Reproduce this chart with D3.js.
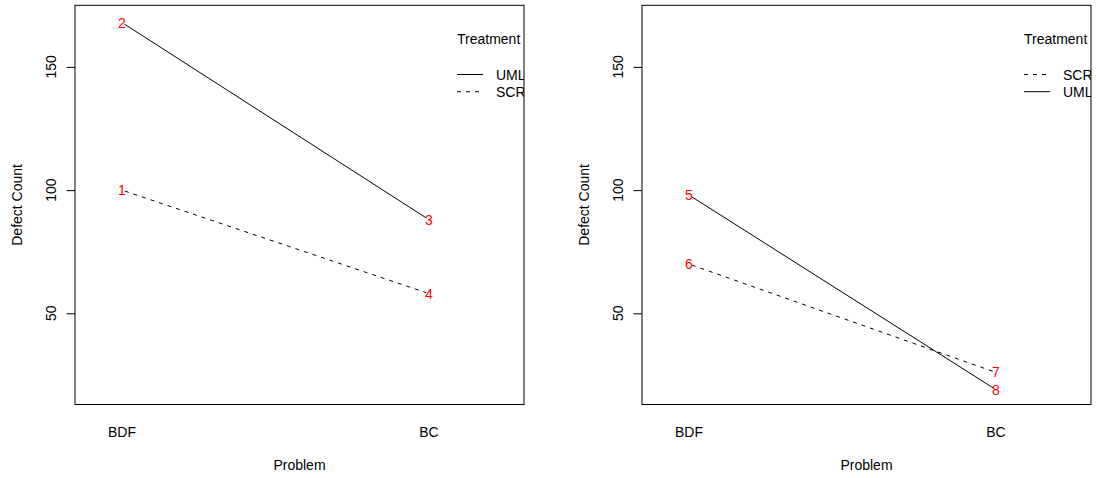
<!DOCTYPE html>
<html>
<head>
<meta charset="utf-8">
<script src="https://cdn.jsdelivr.net/npm/d3@7"></script>
<style>
  html, body { margin: 0; padding: 0; background: #fff; }
  svg text { font-family: "Liberation Sans", Arial, Helvetica, sans-serif; font-size: 14px; fill: #000; }
</style>
</head>
<body>
<svg id="chart" width="1096" height="478"></svg>
<script>
// Problem levels along the x axis
const problems = ["BDF", "BC"];

// Left panel: defect counts per treatment, with the observation ids plotted as labels
const leftUML = [168, 88];
const leftSCR = [100, 58];
const leftUMLIds = ["2", "3"];
const leftSCRIds = ["1", "4"];

// Right panel
const rightUML = [98, 19];
const rightSCR = [70, 26];
const rightUMLIds = ["5", "8"];
const rightSCRIds = ["6", "7"];

// Legend order differs between panels
const leftLegend = ["UML", "SCR"];
const rightLegend = ["SCR", "UML"];

// Shared y range and ticks
const yRange = [19, 169];
const yTicks = [50, 100, 150];

const dashFor = { UML: null, SCR: "4,5" };

const svg = d3.select("#chart");
const W = 449, TOP = 5.3, BOTTOM = 404.5;

// y limits extended by 4% on either side, like a default R plot
const span = yRange[1] - yRange[0];
const y = d3.scaleLinear()
  .domain([yRange[0] - 0.04 * span, yRange[1] + 0.04 * span])
  .range([BOTTOM, TOP]);

function drawPanel(id, x0, series, legendOrder) {
  const g = svg.append("g");
  const x = d3.scalePoint().domain(problems).range([x0 + 47, x0 + 354]);

  // plot box
  g.append("rect")
    .attr("x", x0).attr("y", TOP)
    .attr("width", W).attr("height", BOTTOM - TOP)
    .attr("fill", "none").attr("stroke", "#000").attr("stroke-width", 1);

  // y axis ticks and labels
  const yAxis = d3.axisLeft(y).tickValues(yTicks).tickSize(8.5).tickFormat("");
  const ax = g.append("g").attr("transform", `translate(${x0},0)`).call(yAxis);
  ax.select(".domain").remove();
  ax.selectAll(".tick line").attr("stroke", "#000");

  g.selectAll(".ylab").data(yTicks).enter().append("text")
    .attr("transform", d => `translate(${x0 - 19},${y(d)}) rotate(-90)`)
    .attr("text-anchor", "middle")
    .text(d => d3.format("d")(d));

  // x labels (no tick marks)
  g.selectAll(".xlab").data(problems).enter().append("text")
    .attr("x", d => x(d)).attr("y", 437)
    .attr("text-anchor", "middle")
    .text(d => d);

  // axis titles
  g.append("text")
    .attr("x", x0 + W / 2).attr("y", 469.5)
    .attr("text-anchor", "middle").text("Problem");
  g.append("text")
    .attr("transform", `translate(${x0 - 53},${(TOP + BOTTOM) / 2}) rotate(-90)`)
    .attr("text-anchor", "middle").text("Defect Count");

  // lines with small gaps around the point labels (type = "b")
  const gap = 3;
  series.forEach(s => {
    const pts = s.values.map((v, i) => [x(problems[i]), y(v)]);
    for (let i = 0; i < pts.length - 1; i++) {
      const [ax1, ay1] = pts[i], [bx, by] = pts[i + 1];
      const len = Math.hypot(bx - ax1, by - ay1);
      const ux = (bx - ax1) / len, uy = (by - ay1) / len;
      g.append("line")
        .attr("x1", ax1 + ux * gap).attr("y1", ay1 + uy * gap)
        .attr("x2", bx - ux * gap).attr("y2", by - uy * gap)
        .attr("stroke", "#000").attr("stroke-width", 1)
        .attr("stroke-dasharray", dashFor[s.name]);
    }
    g.selectAll(null).data(s.values).enter().append("text")
      .attr("x", (d, i) => x(problems[i]))
      .attr("y", d => y(d) + 5)
      .attr("text-anchor", "middle")
      .style("fill", "red")
      .text((d, i) => s.ids[i]);
  });

  // legend, clipped to the plot box
  const clipId = "clip-" + id;
  svg.append("clipPath").attr("id", clipId)
    .append("rect").attr("x", x0).attr("y", TOP).attr("width", W).attr("height", BOTTOM - TOP);
  const lg = g.append("g").attr("clip-path", `url(#${clipId})`);
  lg.append("text").attr("x", x0 + 382).attr("y", 44).text("Treatment");
  legendOrder.forEach((name, i) => {
    const ly = 74.5 + i * 17.2;
    lg.append("line")
      .attr("x1", x0 + 382).attr("x2", x0 + 408)
      .attr("y1", ly).attr("y2", ly)
      .attr("stroke", "#000").attr("stroke-width", 1)
      .attr("stroke-dasharray", dashFor[name]);
    lg.append("text").attr("x", x0 + 421).attr("y", ly + 5).text(name);
  });
}

drawPanel("left", 75, [
  { name: "UML", values: leftUML, ids: leftUMLIds },
  { name: "SCR", values: leftSCR, ids: leftSCRIds }
], leftLegend);

drawPanel("right", 642, [
  { name: "UML", values: rightUML, ids: rightUMLIds },
  { name: "SCR", values: rightSCR, ids: rightSCRIds }
], rightLegend);
</script>
</body>
</html>
